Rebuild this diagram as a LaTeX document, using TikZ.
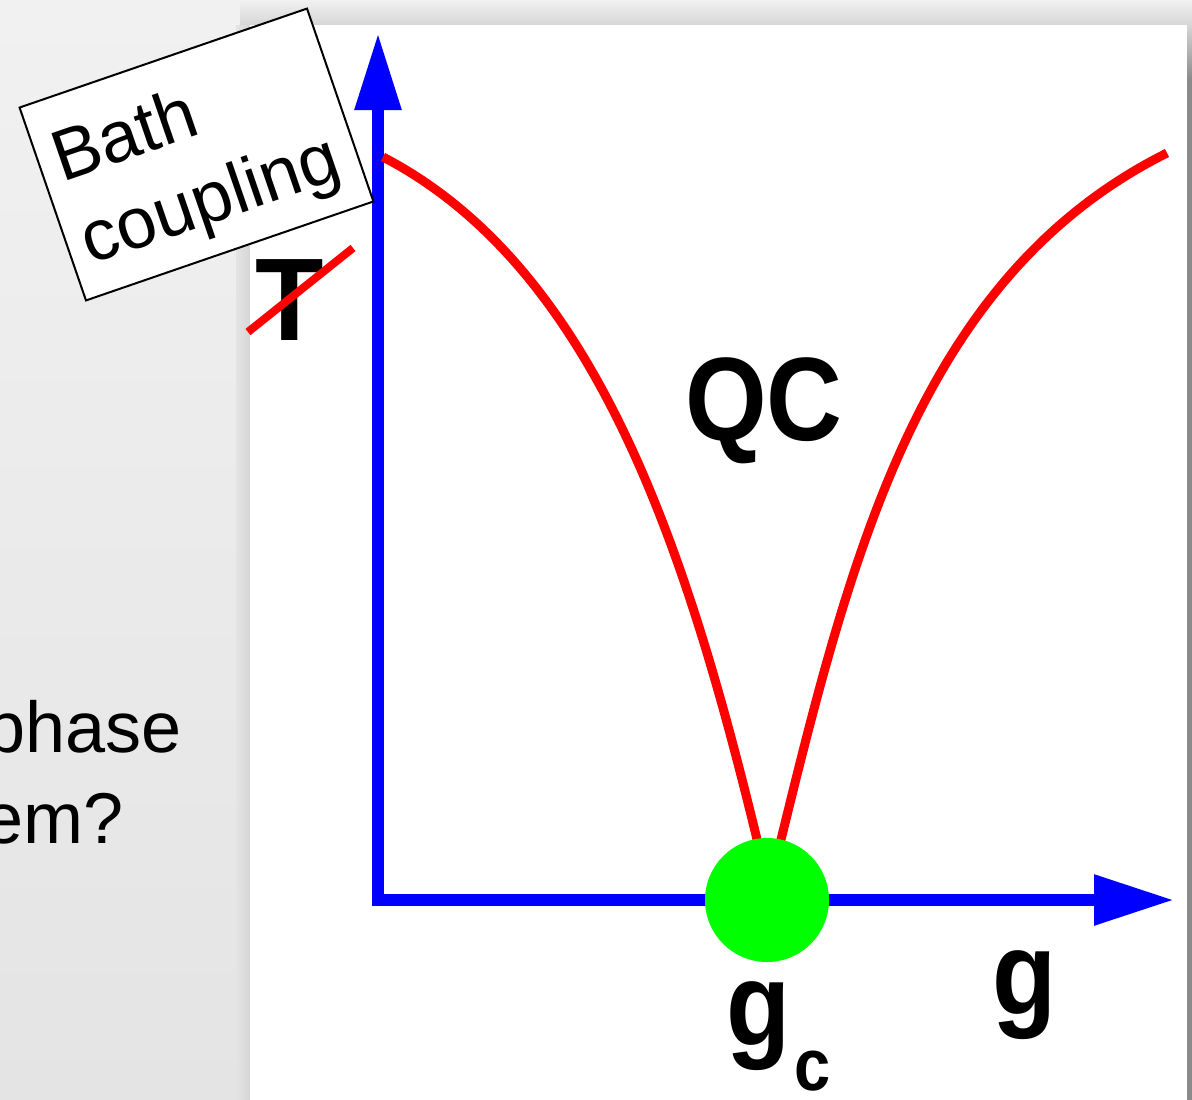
\documentclass[tikz,border=0pt]{standalone}
\usepackage{fontspec}
\setmainfont{Liberation Sans}
\usetikzlibrary{arrows.meta}
\definecolor{pblue}{RGB}{0,0,255}
\definecolor{pred}{RGB}{255,0,0}
\definecolor{pgreen}{RGB}{0,255,0}
\definecolor{bgtop}{RGB}{241,241,241}
\definecolor{bgbot}{RGB}{228,228,228}
\definecolor{shadowc}{RGB}{214,214,214}
\definecolor{rstrip}{RGB}{138,138,138}
\begin{document}
\begin{tikzpicture}[x=1pt,y=-1pt,
  axisline/.style={pblue, line width=12pt, line join=miter},
  curve/.style={pred, line width=9pt, line cap=butt},
  biglbl/.style={inner sep=0pt, font=\bfseries},
  slidetext/.style={inner sep=0pt, font=\fontsize{72}{86}\selectfont},
  bathbox/.style={draw=black, line width=2pt, fill=white, minimum width=304pt, minimum height=204pt, inner sep=0pt},
  bathtext/.style={inner sep=0pt, anchor=base west, font=\fontsize{72}{72}\selectfont}
]
\useasboundingbox (0,0) rectangle (1192,1100);
\clip (0,0) rectangle (1192,1100);
% slide background
\shade[top color=bgtop, bottom color=bgbot] (0,0) rectangle (1192,1100);
% top shadow over panel
\shade[top color=bgtop, bottom color=shadowc] (240,0) rectangle (1192,25);
% left shadow of panel
\shade[left color=bgbot, right color=shadowc] (236,25) rectangle (250,1100);
% right strip
\fill[rstrip] (1187,80) rectangle (1192,1100);
\shade[top color=shadowc, bottom color=rstrip] (1187,25) rectangle (1192,80);
% white panel
\fill[white] (250,25) rectangle (1187,1100);

% left slide text (cut off)
\node[slidetext, anchor=base east] (phase) at (182,752) {phase};
\node[slidetext, anchor=base east] (em) at (124,843) {em?};

% axes
\coordinate (O) at (378,900);
\coordinate (Ytip) at (378,33);
\coordinate (Xtip) at (1174,900);
\draw[axisline, {Triangle[length=77pt,width=44pt]}-{Triangle[length=80pt,width=48pt]}] (Ytip) -- (O) -- (Xtip);

% crossover curves
\coordinate (Lstart) at (383,157);
\coordinate (Rstart) at (1167,153);
\coordinate (Lend) at (762,860);
\coordinate (Rend) at (776,860);
\draw[curve] (Lstart) .. controls (600,270) and (690,560) .. (Lend);
\draw[curve] (Rstart) .. controls (917,278) and (849.5,560) .. (Rend);

% quantum critical point
\node[circle, fill=pgreen, minimum size=124pt, inner sep=0pt] (gcdot) at (767,900) {};

% labels
\node[biglbl, anchor=base] (T) at (290,340) {\scalebox{1}[1.05]{\fontsize{112}{112}\selectfont T}};
\draw[pred, line width=8pt] (248,332) -- (353,248);
\node[biglbl, anchor=base] (QC) at (764,440) {\scalebox{1}[1.13]{\fontsize{105}{105}\selectfont QC}};
\node[biglbl, anchor=base] (g) at (1025,1014) {\scalebox{1}[1.13]{\fontsize{105}{105}\selectfont g}};
\node[biglbl, anchor=base west] (gc) at (726,1045) {\scalebox{1}[1.13]{\fontsize{105}{105}\selectfont g}\hspace{4pt}\raisebox{-45pt}{\scalebox{1}[1.13]{\fontsize{65}{65}\selectfont c}}};

% bath coupling label box
\begin{scope}[shift={(196.5,154.5)}, rotate=19, transform shape]
  \node[bathbox] (bath) at (0,0) {};
  \node[bathtext] (bath1) at (-136,-17.5) {Bath};
  \node[bathtext] (bath2) at (-136,70) {coupling};
\end{scope}
\end{tikzpicture}
\end{document}
